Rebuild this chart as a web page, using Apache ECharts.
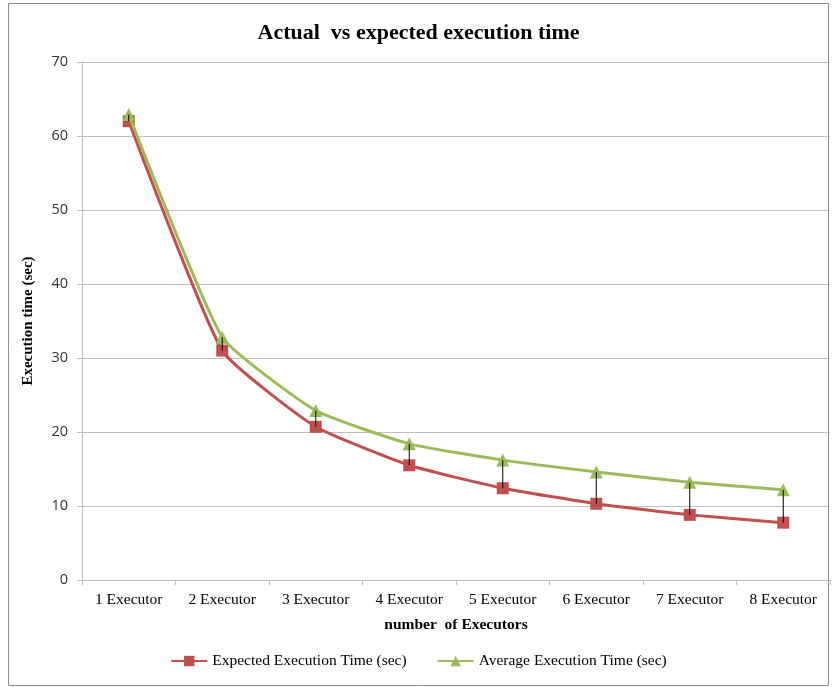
<!DOCTYPE html>
<html><head><meta charset="utf-8">
<script src="https://cdn.jsdelivr.net/npm/echarts@6/dist/echarts.min.js"></script>
<style>html,body{margin:0;padding:0;background:#fff}#c{width:837px;height:687px}</style>
</head><body><div id="c"></div>
<script>
const categories = ['1 Executor','2 Executor','3 Executor','4 Executor','5 Executor','6 Executor','7 Executor','8 Executor'];
const expected = [62, 31, 20.7, 15.5, 12.4, 10.3, 8.8, 7.75];
const average = [62.9, 32.8, 22.9, 18.4, 16.2, 14.6, 13.2, 12.2];
const yTicks = [0, 10, 20, 30, 40, 50, 60, 70];

const serif = '"Liberation Serif", "Times New Roman", serif';
const sans = '"Open Sans", "Liberation Sans", sans-serif';
const chart = echarts.init(document.getElementById('c'));
chart.setOption({
  animation: false,
  title: {text: 'Actual  vs expected execution time', left: 'center', top: 17,
    textStyle: {fontFamily: serif, fontWeight: 'bold', fontSize: 22, color: '#000'}},
  graphic: [{type: 'rect', shape: {x: 8.5, y: 3.5, width: 820, height: 682},
    style: {fill: null, stroke: '#8c8c8c', lineWidth: 1}, silent: true}],
  grid: {left: 82, right: 7, top: 62, bottom: 107},
  legend: {bottom: 13, left: 'center', itemGap: 30, itemWidth: 36, itemHeight: 13,
    textStyle: {fontFamily: serif, fontSize: 15.5, color: '#000'},
    data: ['Expected Execution Time (sec)', 'Average Execution Time (sec)']},
  xAxis: {type: 'category', data: categories, boundaryGap: true,
    name: 'number  of Executors', nameLocation: 'middle', nameGap: 37,
    nameTextStyle: {fontFamily: serif, fontWeight: 'bold', fontSize: 15.5, color: '#000'},
    axisLine: {lineStyle: {color: '#bfbfbf'}},
    axisTick: {show: true, lineStyle: {color: '#bfbfbf'}, length: 5},
    axisLabel: {fontFamily: serif, fontSize: 15.5, color: '#000', margin: 12}},
  yAxis: {type: 'value', min: yTicks[0], max: yTicks[yTicks.length-1], interval: 10,
    name: 'Execution time (sec)', nameLocation: 'middle', nameGap: 46,
    nameTextStyle: {fontFamily: serif, fontWeight: 'bold', fontSize: 15, color: '#000'},
    axisLine: {show: true, lineStyle: {color: '#bfbfbf'}},
    axisTick: {show: true, lineStyle: {color: '#bfbfbf'}, length: 5},
    splitLine: {lineStyle: {color: '#bfbfbf'}},
    axisLabel: {fontFamily: sans, fontSize: 14.5, color: '#333', margin: 14}},
  series: [
    {name: 'Expected Execution Time (sec)', type: 'line', data: expected, smooth: 0.15,
      symbol: 'rect', symbolSize: 12, z: 3,
      lineStyle: {color: '#c0504d', width: 3}, itemStyle: {color: '#c0504d'}},
    {name: 'Average Execution Time (sec)', type: 'line', data: average, smooth: 0.15,
      symbol: 'triangle', symbolSize: 13, z: 4,
      lineStyle: {color: '#9bbb59', width: 3}, itemStyle: {color: '#9bbb59'}},
    {type: 'custom', z: 10, silent: true,
      data: categories.map((c, i) => [i, expected[i], average[i]]),
      renderItem: function (params, api) {
        const a = api.coord([api.value(0), api.value(1)]);
        const b = api.coord([api.value(0), api.value(2)]);
        return {type: 'line', shape: {x1: a[0], y1: a[1], x2: b[0], y2: b[1]},
          style: {stroke: '#000', lineWidth: 1}};
      }}
  ]
});
</script></body></html>
